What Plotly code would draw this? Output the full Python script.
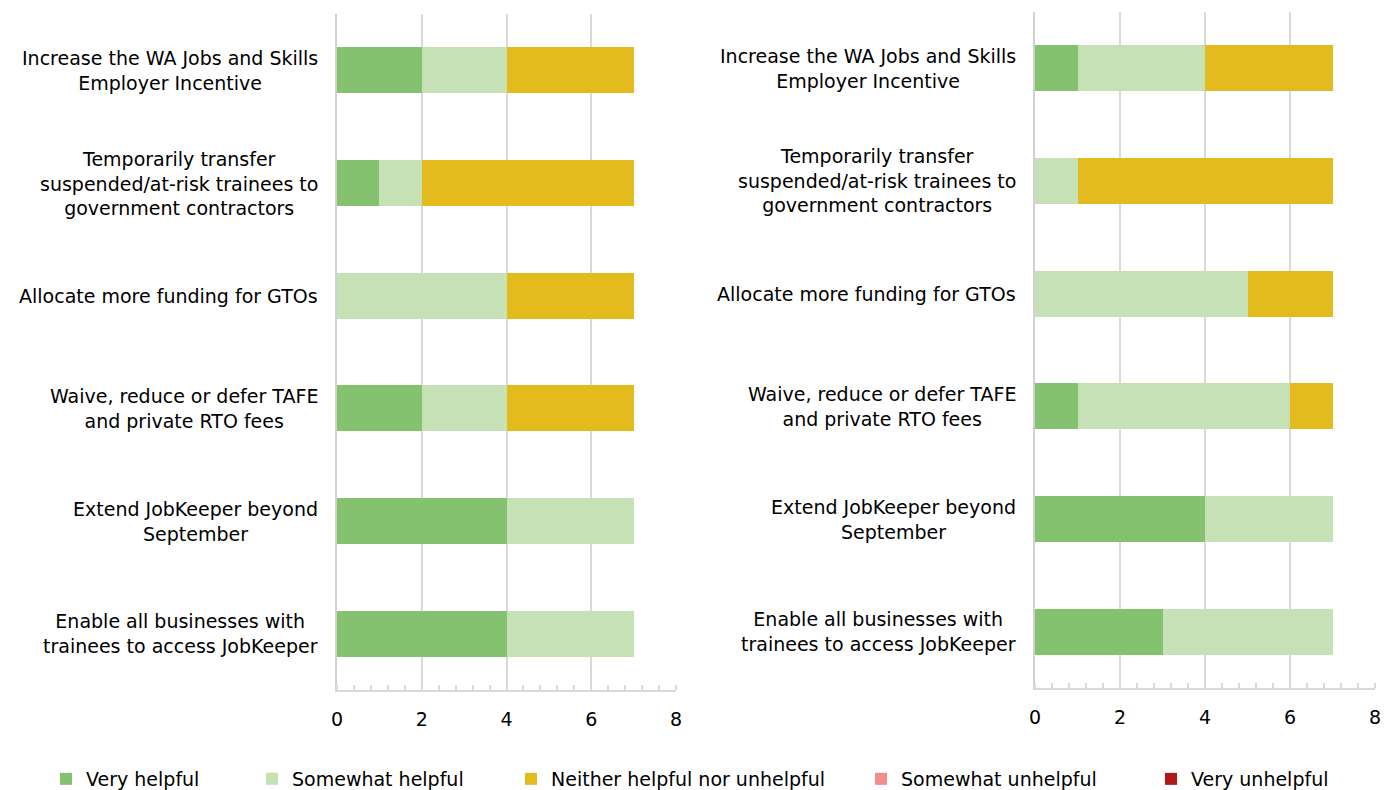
import plotly.graph_objects as go

# Policy options, listed top to bottom
categories = [
    "Increase the WA Jobs and Skills<br>Employer Incentive",
    "Temporarily transfer<br>suspended/at-risk trainees to<br>government contractors",
    "Allocate more funding for GTOs",
    "Waive, reduce or defer TAFE<br>and private RTO fees",
    "Extend JobKeeper beyond<br>September",
    "Enable all businesses with<br>trainees to access JobKeeper",
]

series_names = [
    "Very helpful",
    "Somewhat helpful",
    "Neither helpful nor unhelpful",
    "Somewhat unhelpful",
    "Very unhelpful",
]
series_colors = ["#84C270", "#C5E1B5", "#E4BB1E", "#F28D8B", "#B01717"]

# Left panel responses
left_very_helpful = [2, 1, 0, 2, 4, 4]
left_somewhat_helpful = [2, 1, 4, 2, 3, 3]
left_neither = [3, 5, 3, 3, 0, 0]
left_somewhat_unhelpful = [0, 0, 0, 0, 0, 0]
left_very_unhelpful = [0, 0, 0, 0, 0, 0]

# Right panel responses
right_very_helpful = [1, 0, 0, 1, 4, 3]
right_somewhat_helpful = [3, 1, 5, 5, 3, 4]
right_neither = [3, 6, 2, 1, 0, 0]
right_somewhat_unhelpful = [0, 0, 0, 0, 0, 0]
right_very_unhelpful = [0, 0, 0, 0, 0, 0]

x_ticks = [0, 2, 4, 6, 8]

FONT = "DejaVu Sans"
FONT_SIZE = 19
W, H = 1392, 790

left_series = [left_very_helpful, left_somewhat_helpful, left_neither,
               left_somewhat_unhelpful, left_very_unhelpful]
right_series = [right_very_helpful, right_somewhat_helpful, right_neither,
                right_somewhat_unhelpful, right_very_unhelpful]

# one legend per series so each key sits at its own spot along the bottom
legend_ids = ["legend", "legend2", "legend3", "legend4", "legend5"]
legend_left_px = [58, 264, 523, 873, 1163]

fig = go.Figure()
for i, name in enumerate(series_names):
    fig.add_trace(go.Bar(
        y=categories, x=left_series[i], orientation="h", name=name,
        marker=dict(color=series_colors[i], line=dict(width=0)),
        width=0.41, xaxis="x", yaxis="y", legendgroup=name,
        legend=legend_ids[i], showlegend=True,
    ))
for i, name in enumerate(series_names):
    fig.add_trace(go.Bar(
        y=categories, x=right_series[i], orientation="h", name=name,
        marker=dict(color=series_colors[i], line=dict(width=0)),
        width=0.41, xaxis="x2", yaxis="y2", legendgroup=name,
        legend=legend_ids[i], showlegend=False,
    ))

grid = "#D9D9D9"

def xaxis_style(domain, anchor):
    return dict(
        domain=domain, anchor=anchor, range=[0, 8], tickvals=x_ticks,
        showgrid=True, gridcolor=grid, gridwidth=1.5,
        showline=True, linecolor=grid, linewidth=2,
        ticks="", ticklabelstandoff=11,
        tickfont=dict(family=FONT, size=FONT_SIZE, color="#000000"),
        minor=dict(dtick=0.4, tick0=0, ticks="inside", ticklen=5,
                   tickcolor=grid, tickwidth=1.5, showgrid=False),
        zeroline=False, fixedrange=True, automargin=False,
    )

def yaxis_style(domain, anchor):
    return dict(
        domain=domain, anchor=anchor, type="category",
        autorange="reversed", showticklabels=False, ticks="",
        showgrid=False, showline=True, linecolor="#D0D0D0", linewidth=2,
        zeroline=False, fixedrange=True, automargin=False,
    )

x1_dom = [337 / W, 676 / W]
x2_dom = [1035 / W, 1375 / W]
y1_dom = [1 - 690 / H, 1 - 14 / H]
y2_dom = [1 - 688 / H, 1 - 12 / H]

annotations = []
for cat in categories:
    annotations.append(dict(
        x=320 / W, xref="paper", y=cat, yref="y", text=cat,
        xanchor="right", yanchor="middle", align="center", showarrow=False,
        font=dict(family=FONT, size=FONT_SIZE, color="#000000"),
    ))
    annotations.append(dict(
        x=1018 / W, xref="paper", y=cat, yref="y2", text=cat,
        xanchor="right", yanchor="middle", align="center", showarrow=False,
        font=dict(family=FONT, size=FONT_SIZE, color="#000000"),
    ))

legend_layout = {}
for lid, px in zip(legend_ids, legend_left_px):
    legend_layout[lid] = dict(
        orientation="h", x=(px - 12) / W, xanchor="left",
        y=1 - 779 / H, yanchor="middle",
        font=dict(family=FONT, size=FONT_SIZE, color="#000000"),
        itemwidth=30, bgcolor="rgba(0,0,0,0)", borderwidth=0,
    )

fig.update_layout(
    width=W, height=H,
    margin=dict(l=0, r=0, t=0, b=0, autoexpand=False),
    paper_bgcolor="white", plot_bgcolor="white",
    barmode="stack", bargap=0.59,
    xaxis=xaxis_style(x1_dom, "y"),
    yaxis=yaxis_style(y1_dom, "x"),
    xaxis2=xaxis_style(x2_dom, "y2"),
    yaxis2=yaxis_style(y2_dom, "x2"),
    annotations=annotations,
    showlegend=True,
    **legend_layout,
)

fig.write_html("out.html")
